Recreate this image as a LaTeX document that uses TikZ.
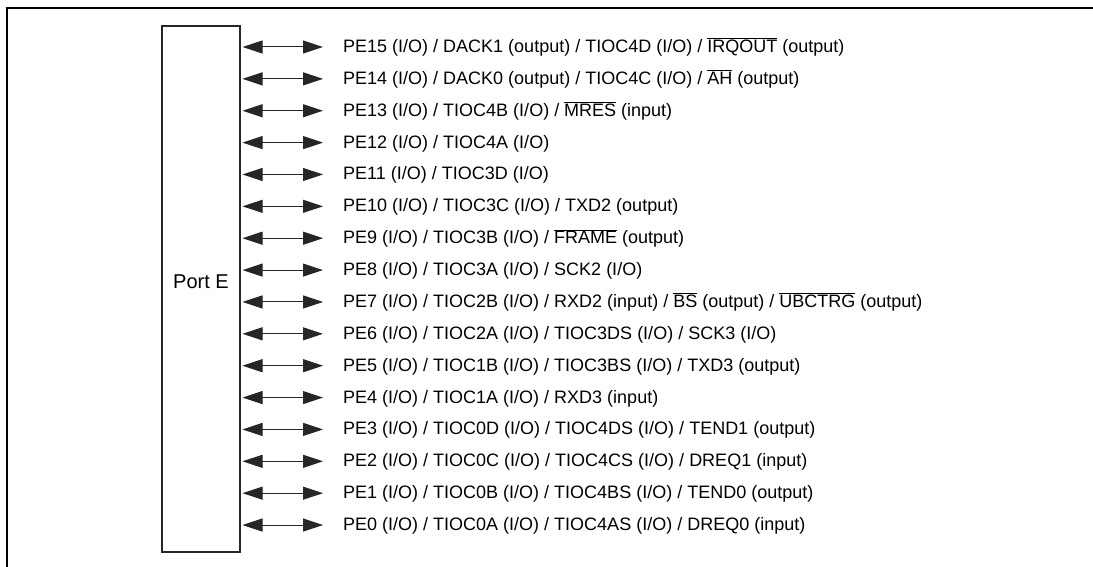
\documentclass[tikz,border=0pt]{standalone}
\usepackage{fontspec}
\setmainfont{Liberation Sans}
\usetikzlibrary{arrows.meta}
\newcommand\ovl[1]{$\overline{\mbox{#1}}$}
\begin{document}
\begin{tikzpicture}[x=1pt,y=-1pt,
  io/.style={{Triangle[length=20pt,width=13pt]}-{Triangle[length=20pt,width=13pt]}, line width=1pt, draw=black!85, fill=black!85, shorten <=1.5pt},
  lbl/.style={anchor=base west, inner sep=0pt, font=\fontsize{18}{20}\selectfont},
  portbox/.style={draw=black!85, line width=2pt, minimum width=78pt, minimum height=526pt, inner sep=0pt}]
\useasboundingbox (0,0) rectangle (1093,567);
\draw[line width=2.5pt] (7,567) -- (7,8) -- (1093,8);
\node[portbox] (port) at (201,289) {};
\node[anchor=base, font=\fontsize{20}{22}\selectfont, inner sep=0pt] (portlbl) at (201,288) {Port E};
\foreach \t [count=\i from 0] in {
  {PE15 (I/O) / DACK1 (output) / TIOC4D (I/O) / \ovl{IRQOUT} (output)},
  {PE14 (I/O) / DACK0 (output) / TIOC4C (I/O) / \ovl{AH} (output)},
  {PE13 (I/O) / TIOC4B (I/O) / \ovl{MRES} (input)},
  {PE12 (I/O) / TIOC4A (I/O)},
  {PE11 (I/O) / TIOC3D (I/O)},
  {PE10 (I/O) / TIOC3C (I/O) / TXD2 (output)},
  {PE9 (I/O) / TIOC3B (I/O) / \ovl{FRAME} (output)},
  {PE8 (I/O) / TIOC3A (I/O) / SCK2 (I/O)},
  {PE7 (I/O) / TIOC2B (I/O) / RXD2 (input) / \ovl{BS} (output) / \ovl{UBCTRG} (output)},
  {PE6 (I/O) / TIOC2A (I/O) / TIOC3DS (I/O) / SCK3 (I/O)},
  {PE5 (I/O) / TIOC1B (I/O) / TIOC3BS (I/O) / TXD3 (output)},
  {PE4 (I/O) / TIOC1A (I/O) / RXD3 (input)},
  {PE3 (I/O) / TIOC0D (I/O) / TIOC4DS (I/O) / TEND1 (output)},
  {PE2 (I/O) / TIOC0C (I/O) / TIOC4CS (I/O) / DREQ1 (input)},
  {PE1 (I/O) / TIOC0B (I/O) / TIOC4BS (I/O) / TEND0 (output)},
  {PE0 (I/O) / TIOC0A (I/O) / TIOC4AS (I/O) / DREQ0 (input)}}{
  \pgfmathsetmacro\yy{47+31.87*\i}
  \coordinate (a\i) at (323,\yy);
  \node[lbl] (t\i) at (343,\yy+5.5) {\t};
  \draw[io] (port.east |- a\i) -- (a\i);
}
\end{tikzpicture}
\end{document}
